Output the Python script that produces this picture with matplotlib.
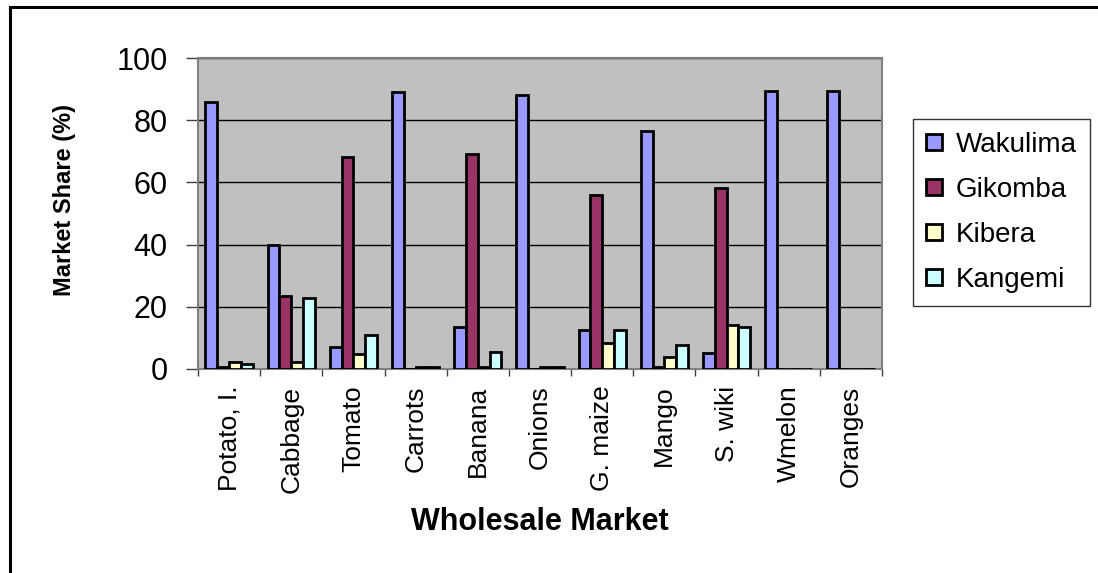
import matplotlib
matplotlib.use("Agg")
import matplotlib.pyplot as plt
import numpy as np
from matplotlib.patches import Rectangle

categories = ["Potato, I.", "Cabbage", "Tomato", "Carrots", "Banana", "Onions",
              "G. maize", "Mango", "S. wiki", "Wmelon", "Oranges"]
wakulima = [86, 40, 7, 89, 13.5, 88, 12.5, 76.5, 5, 89.5, 89.5]
gikomba = [0.7, 23.5, 68.3, 0, 69, 0, 55.8, 0.7, 58.2, 0, 0]
kibera = [2.4, 2.3, 4.8, 0.5, 0.6, 0.5, 8.5, 4.0, 14.1, 0, 0]
kangemi = [1.6, 22.7, 11, 0.5, 5.4, 0.5, 12.6, 7.8, 13.4, 0, 0]
series_names = ["Wakulima", "Gikomba", "Kibera", "Kangemi"]
series_colors = ["#9999FF", "#993366", "#FFFFCC", "#CCFFFF"]
yticks = [0, 20, 40, 60, 80, 100]

plt.rcParams['font.family'] = ['Liberation Sans', 'DejaVu Sans']

W, H = 1098, 573
fig = plt.figure(figsize=(W / 100, H / 100), dpi=100)
ax = fig.add_axes([198 / W, 1 - 369 / H, (882 - 198) / W, (369 - 58) / H])
ax.set_facecolor("#C0C0C0")

x = np.arange(len(categories))
bw = 0.19
data = [wakulima, gikomba, kibera, kangemi]
for i, (vals, name, col) in enumerate(zip(data, series_names, series_colors)):
    ax.bar(x + (i - 1.5) * bw, vals, width=bw, color=col, edgecolor="black",
           linewidth=2.0, label=name, zorder=3)

ax.set_xlim(-0.5, len(categories) - 0.5)
ax.set_ylim(0, 100)
ax.set_yticks(yticks)
ax.set_yticklabels([str(v) for v in yticks], fontsize=22)
ax.tick_params(axis="y", length=9, width=1, color="#404040", pad=13)
ax.yaxis.grid(True, color="black", linewidth=1, zorder=1)
ax.set_axisbelow(True)

ax.set_xticks(np.arange(len(categories) + 1) - 0.5)
ax.set_xticklabels([])
ax.tick_params(axis="x", which="major", length=5, width=1, color="#404040")
ax.set_xticks(x, minor=True)
ax.set_xticklabels(categories, minor=True, rotation=90, fontsize=19, va="top", ha="center")
ax.tick_params(axis="x", which="minor", length=0, pad=12)

for s in ax.spines.values():
    s.set_color("#808080")
    s.set_linewidth(1.5)

fig.text(65 / W, 1 - 200 / H, "Market Share (%)", rotation=90, fontsize=17,
         fontweight="bold", ha="center", va="center")
fig.text(540 / W, 1 - 522 / H, "Wholesale Market", fontsize=22,
         fontweight="bold", ha="center", va="center")

leg = fig.legend(loc="upper left", bbox_to_anchor=(913 / W, 1 - 119 / H),
                 bbox_transform=fig.transFigure, fontsize=20, frameon=True,
                 fancybox=False, borderaxespad=0, handlelength=0.6,
                 handleheight=0.5, handletextpad=0.5, labelspacing=0.69,
                 borderpad=0.45)
leg.get_frame().set_edgecolor("black")
leg.get_frame().set_linewidth(1.0)

fig.add_artist(Rectangle((10 / W, -0.2), 2, (1 - 7 / H) + 0.2,
                         transform=fig.transFigure, fill=False,
                         edgecolor="black", linewidth=2.2, clip_on=False))

fig.savefig("out.png", dpi=100)
